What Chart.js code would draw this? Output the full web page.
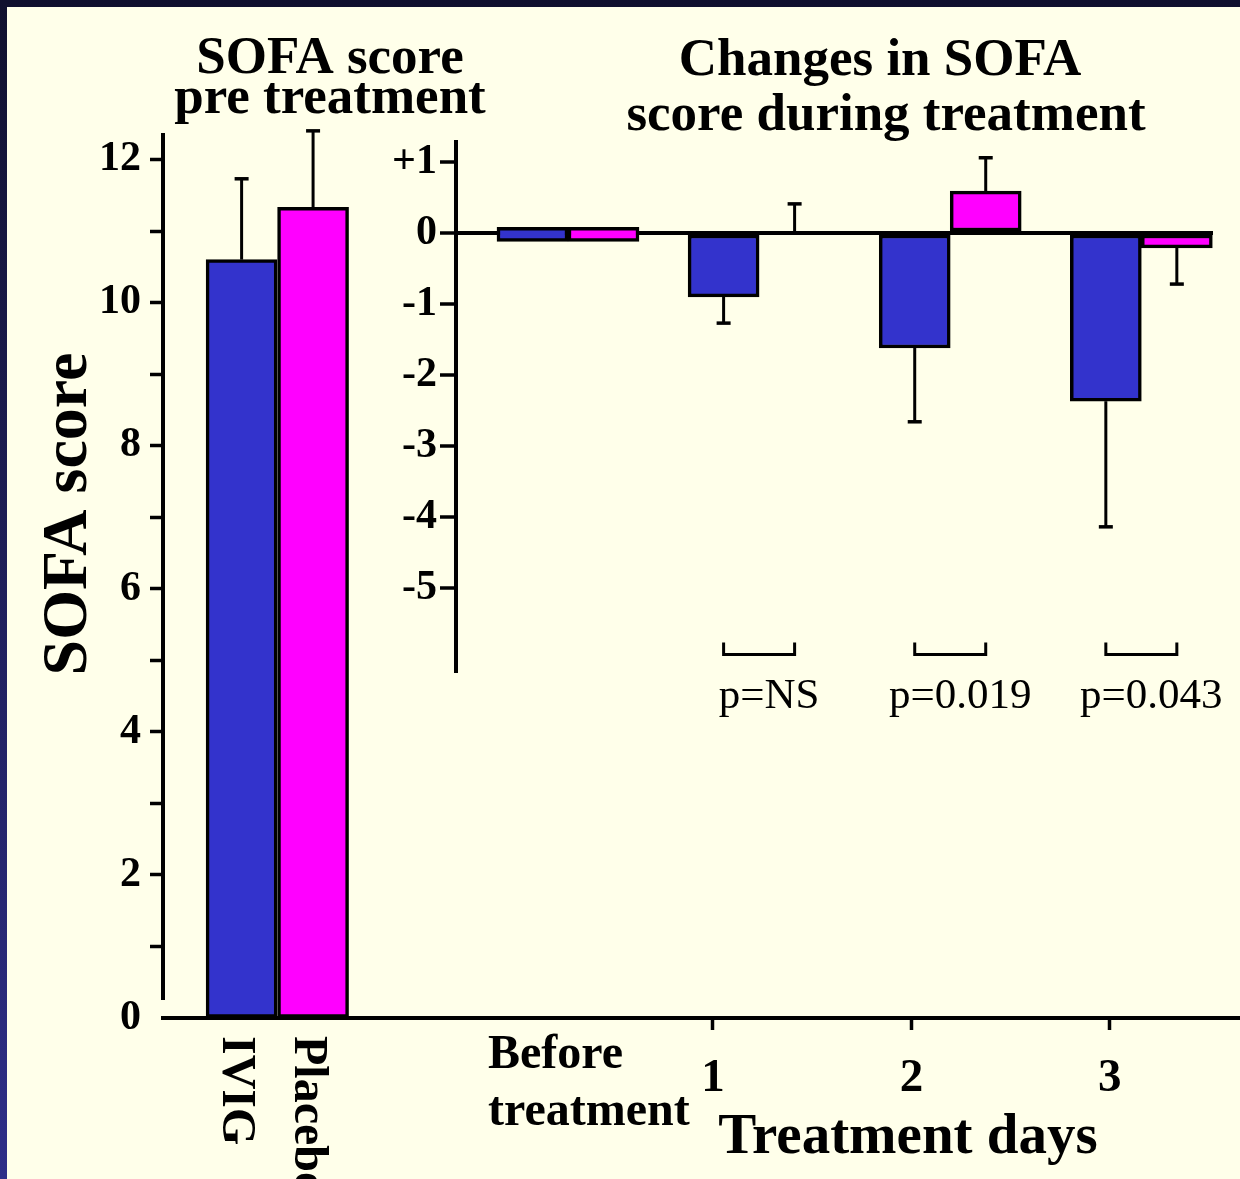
<!DOCTYPE html>
<html>
<head>
<meta charset="utf-8">
<script src="https://cdn.jsdelivr.net/npm/chart.js@4.4.0/dist/chart.umd.min.js"></script>
<style>
body { margin: 0; width: 1240px; height: 1179px; overflow: hidden; position: relative;
       background: linear-gradient(to bottom, #10102e, #2e2e88); }
#panel { position: absolute; left: 7px; top: 7px; right: 0; bottom: 0; background: #FFFFEA; }
canvas { position: absolute; left: 0; top: 0; }
</style>
</head>
<body>
<div id="panel"></div>
<canvas id="preChart" width="1240" height="1179"></canvas>
<canvas id="changeChart" width="1240" height="1179"></canvas>
<script>
// pre treatment
const groups = ['IVIG', 'Placebo'];
const preScore = [10.6, 11.33];
const preErrTop = [11.73, 12.4];

// changes during treatment (bars start at barStart, end at the change value)
const days = ['Before treatment', '1', '2', '3'];
const barStart = [0.08, 0, 0, 0];
const ivigChange = [-0.12, -0.9, -1.62, -2.37];
const placeboChange = [-0.12, 0, 0.59, -0.21];
const ivigErrEnd = [null, -1.27, -2.66, -4.14];
const placeboErrEnd = [null, 0.41, 1.06, -0.72];
const pValues = ['', 'p=NS', 'p=0.019', 'p=0.043'];

const blue = '#3333CC';
const pink = '#FF00FF';
const serif = "'Liberation Serif', 'Times New Roman', serif";
const clear = 'rgba(0,0,0,0)';

const write = (ctx, text, x, y, size, bold, align) => {
    ctx.font = (bold ? 'bold ' : '') + size + 'px ' + serif;
    ctx.fillStyle = '#000';
    ctx.textAlign = align || 'center';
    ctx.textBaseline = 'alphabetic';
    ctx.fillText(text, x, y);
}

const line = (ctx, pts, w) => {
    ctx.beginPath();
    ctx.moveTo(pts[0][0], pts[0][1]);
    for (let i = 1; i < pts.length; i++) ctx.lineTo(pts[i][0], pts[i][1]);
    ctx.lineWidth = w;
    ctx.strokeStyle = '#000';
    ctx.stroke();
}

const errorBars = {
    id: 'errorBars',
    afterDatasetsDraw(chart) {
        const ctx = chart.ctx;
        const y = chart.scales.y;
        ctx.save();
        chart.data.datasets.forEach((ds, d) => {
            if (!ds.errEnd) return;
            chart.getDatasetMeta(d).data.forEach((bar, i) => {
                const v = ds.errEnd[i];
                if (v === null || v === undefined) return;
                const yEnd = y.getPixelForValue(v);
                line(ctx, [[bar.x, bar.y], [bar.x, yEnd]], 3);
                line(ctx, [[bar.x - 7, yEnd], [bar.x + 7, yEnd]], 3.5);
            });
        });
        ctx.restore();
    }
};

const leftDecor = {
    id: 'leftDecor',
    afterDraw(chart) {
        const ctx = chart.ctx;
        const y = chart.scales.y;
        const area = chart.chartArea;
        ctx.save();
        line(ctx, [[area.left, y.getPixelForValue(y.max)], [area.left, y.getPixelForValue(0.25)]], 4);
        write(ctx, 'SOFA score', 330, 73, 53, true);
        write(ctx, 'pre treatment', 330, 113, 53, true);

        ctx.save();
        ctx.translate(86, 514);
        ctx.rotate(-Math.PI / 2);
        write(ctx, 'SOFA score', 0, 0, 64, true);
        ctx.restore();

        chart.getDatasetMeta(0).data.forEach((bar, i) => {
            ctx.save();
            ctx.translate(bar.x - 6, 1036);
            ctx.rotate(Math.PI / 2);
            ctx.font = 'bold 48px ' + serif;
            ctx.fillStyle = '#000';
            ctx.textAlign = 'left';
            ctx.textBaseline = 'middle';
            ctx.fillText(groups[i], 0, 0);
            ctx.restore();
        });
        ctx.restore();
    }
};

const rightDecor = {
    id: 'rightDecor',
    afterDraw(chart) {
        const ctx = chart.ctx;
        const y = chart.scales.y;
        const area = chart.chartArea;
        ctx.save();
        line(ctx, [[area.left, y.getPixelForValue(y.max)], [area.left, y.getPixelForValue(-6.2)]], 4);
        line(ctx, [[area.right, area.bottom], [chart.width, area.bottom]], 4);

        write(ctx, 'Changes in SOFA', 880, 75, 53, true);
        write(ctx, 'score during treatment', 886, 130, 53, true);

        const ivig = chart.getDatasetMeta(0).data;
        const plac = chart.getDatasetMeta(1).data;
        const yLine = y.getPixelForValue(-5.94);
        const yTop = y.getPixelForValue(-5.77);
        pValues.forEach((p, i) => {
            if (!p) return;
            const x1 = ivig[i].x;
            const x2 = plac[i].x;
            line(ctx, [[x1, yTop], [x1, yLine], [x2, yLine], [x2, yTop]], 3);
            write(ctx, p, (x1 + x2) / 2 + 10, yLine + 53, 43, false);
        });

        const before = days[0].split(' ');
        write(ctx, before[0], 488, 1068, 48, true, 'left');
        write(ctx, before[1], 488, 1125, 48, true, 'left');
        write(ctx, 'Treatment days', 908, 1153, 57, true);
        ctx.restore();
    }
};

const tickFont = { family: serif, size: 42, weight: 'bold' };

new Chart(document.getElementById('preChart'), {
    type: 'bar',
    data: {
        datasets: [{
            data: preScore.map((v, i) => ({ x: i + 1, y: v })),
            backgroundColor: [blue, pink],
            borderColor: '#000',
            borderWidth: 3.5,
            borderSkipped: false,
            barThickness: 71,
            errEnd: preErrTop
        }]
    },
    options: {
        responsive: false,
        animation: false,
        events: [],
        layout: { padding: { top: 133, right: 784, bottom: 161, left: 0 } },
        plugins: { legend: { display: false }, tooltip: { enabled: false } },
        scales: {
            x: {
                type: 'linear', min: -0.1, max: 4, offset: false,
                ticks: { display: false },
                grid: { display: false, offset: false },
                border: { color: '#000', width: 4 },
                afterFit: (s) => { s.height = 0 }
            },
            y: {
                min: 0, max: 12.37,
                border: { display: false },
                ticks: {
                    stepSize: 1, includeBounds: false, padding: 9, color: '#000', font: tickFont,
                    callback: (v) => v % 2 === 0 ? String(v) : ''
                },
                grid: {
                    drawOnChartArea: false, tickLength: 13, tickWidth: 3.5,
                    tickColor: (c) => c.tick && c.tick.value === 0 ? clear : '#000'
                },
                afterFit: (s) => { s.width = 163 }
            }
        }
    },
    plugins: [errorBars, leftDecor]
});

new Chart(document.getElementById('changeChart'), {
    type: 'bar',
    data: {
        datasets: [{
            label: 'IVIG',
            data: ivigChange.map((v, i) => ({ x: i, y: [barStart[i], v] })),
            backgroundColor: blue,
            errEnd: ivigErrEnd
        }, {
            label: 'Placebo',
            data: placeboChange.map((v, i) => ({ x: i, y: [barStart[i], v] })),
            backgroundColor: pink,
            errEnd: placeboErrEnd
        }]
    },
    options: {
        responsive: false,
        animation: false,
        events: [],
        datasets: {
            bar: { borderColor: '#000', borderWidth: 3.5, borderSkipped: false, barThickness: 71 }
        },
        layout: { padding: { top: 140, right: 27, bottom: 0, left: 0 } },
        plugins: { legend: { display: false }, tooltip: { enabled: false } },
        scales: {
            x: { type: 'linear', display: false, min: -0.586, max: 3.375, offset: false },
            x2: {
                type: 'linear', axis: 'x', position: 'bottom', min: -0.295, max: 3.52, offset: false,
                ticks: {
                    stepSize: 1, includeBounds: false, padding: 21, maxRotation: 0, autoSkip: false,
                    color: '#000', font: { family: serif, size: 47, weight: 'bold' },
                    callback: (v) => v >= 1 ? days[v] : ''
                },
                grid: {
                    drawOnChartArea: false, offset: false, tickLength: 12, tickWidth: 3.5,
                    tickColor: (c) => c.tick && c.tick.value >= 1 ? '#000' : clear
                },
                border: { color: '#000', width: 4 },
                afterFit: (s) => { s.height = 161 }
            },
            y: {
                min: -11.06, max: 1.31,
                border: { display: false },
                ticks: {
                    stepSize: 1, includeBounds: false, padding: 3, color: '#000', font: tickFont,
                    callback: (v) => v >= -5 ? (v > 0 ? '+' + v : String(v)) : ''
                },
                grid: {
                    color: (c) => c.tick && c.tick.value === 0 ? '#000' : clear,
                    lineWidth: (c) => c.tick && c.tick.value === 0 ? 4 : 0,
                    tickLength: 16, tickWidth: 3.5,
                    tickColor: (c) => c.tick && c.tick.value >= -5 ? '#000' : clear
                },
                afterFit: (s) => { s.width = 456 }
            }
        }
    },
    plugins: [errorBars, rightDecor]
});
</script>
</body>
</html>
